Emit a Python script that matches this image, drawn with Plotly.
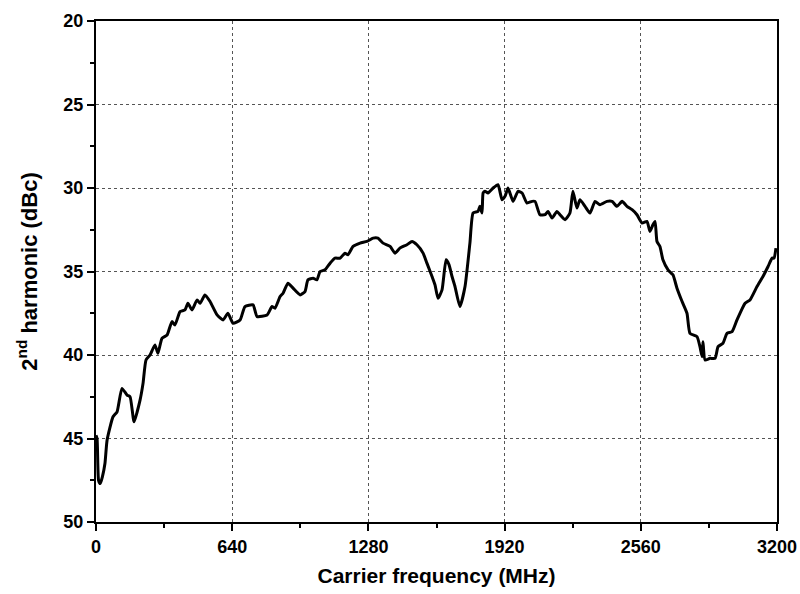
import plotly.graph_objects as go

freq_mhz = [0, 5, 12, 20, 30, 42, 52, 80, 99, 122, 146, 160, 179, 207, 221, 235, 254, 277, 291, 310,
            334, 357, 371, 395, 418, 432, 451, 475, 489, 512, 536, 569, 597, 620, 644, 677, 700, 738,
            757, 804, 827, 841, 865, 879, 902, 926, 959, 982, 996, 1020, 1038, 1053, 1076, 1100, 1123,
            1147, 1170, 1184, 1208, 1241, 1273, 1302, 1325, 1349, 1382, 1405, 1428, 1461, 1485, 1508,
            1537, 1555, 1579, 1593, 1607, 1626, 1645, 1659, 1673, 1687, 1710, 1734, 1757, 1772, 1795,
            1804, 1814, 1819, 1828, 1842, 1866, 1889, 1908, 1922, 1936, 1960, 1983, 2002, 2025, 2049,
            2063, 2086, 2110, 2124, 2143, 2166, 2180, 2204, 2227, 2241, 2260, 2274, 2298, 2321, 2345,
            2368, 2401, 2425, 2448, 2472, 2495, 2519, 2542, 2566, 2589, 2603, 2617, 2627, 2636, 2650,
            2664, 2688, 2711, 2730, 2754, 2777, 2791, 2824, 2838, 2848, 2852, 2862, 2885, 2909, 2923,
            2946, 2965, 2989, 3012, 3050, 3073, 3106, 3134, 3158, 3177, 3186, 3195]

harmonic_dbc = [44.8, 45.0, 47.5, 47.7, 47.3, 46.5, 45.1, 43.7, 43.4, 42.0, 42.4, 42.5, 44.0, 42.7, 41.7,
                40.3, 40.0, 39.4, 39.9, 39.0, 38.8, 38.0, 38.2, 37.4, 37.3, 36.9, 37.3, 36.7, 36.9, 36.4,
                36.8, 37.6, 37.9, 37.5, 38.1, 37.9, 37.1, 37.0, 37.7, 37.6, 37.1, 37.2, 36.5, 36.3, 35.7,
                36.0, 36.4, 36.2, 35.5, 35.4, 35.5, 35.0, 34.9, 34.5, 34.2, 34.2, 33.9, 34.0, 33.5, 33.3,
                33.2, 33.0, 33.0, 33.3, 33.5, 33.9, 33.6, 33.4, 33.2, 33.4, 33.9, 34.5, 35.3, 35.8, 36.6,
                36.1, 34.3, 34.6, 35.3, 35.9, 37.1, 35.9, 33.3, 31.5, 31.4, 31.1, 31.5, 30.3, 30.2, 30.3,
                30.0, 29.8, 30.7, 30.5, 30.0, 30.8, 30.2, 30.3, 30.9, 30.8, 30.8, 31.6, 31.6, 31.4, 31.8,
                31.4, 31.6, 31.9, 31.5, 30.2, 31.2, 30.7, 31.1, 31.5, 30.8, 31.0, 30.8, 30.8, 31.1, 30.8,
                31.1, 31.3, 31.6, 32.1, 32.0, 32.6, 32.2, 32.0, 33.2, 33.5, 34.3, 34.9, 35.2, 36.0, 36.8,
                37.5, 38.7, 38.9, 39.5, 40.1, 39.2, 40.3, 40.2, 40.2, 39.5, 39.3, 38.7, 38.6, 37.9, 36.9,
                36.7, 35.9, 35.3, 34.7, 34.2, 34.2, 33.6]

x_ticks = [0, 640, 1280, 1920, 2560, 3200]
y_ticks = [20, 25, 30, 35, 40, 45, 50]

fig = go.Figure()
fig.add_trace(go.Scatter(x=freq_mhz, y=harmonic_dbc, mode="lines",
                         line=dict(color="black", width=3, shape="spline", smoothing=0.5),
                         showlegend=False))

font_fam = "Liberation Sans, Arial, sans-serif"
fig.update_layout(
    width=800, height=594,
    margin=dict(l=96, r=23, t=21, b=72),
    plot_bgcolor="white", paper_bgcolor="white",
    font=dict(family=font_fam, color="black"),
)
fig.update_xaxes(
    range=[0, 3200], tickvals=x_ticks, ticktext=[str(v) for v in x_ticks],
    showline=True, linecolor="black", linewidth=2, mirror=True,
    ticks="outside", ticklen=7, tickwidth=2, tickcolor="black",
    minor=dict(ticks="outside", ticklen=4, tickwidth=2, tickcolor="black", dtick=320, tick0=0, showgrid=False),
    showgrid=True, gridcolor="#555555", gridwidth=1, griddash="3px,3px",
    zeroline=False, automargin=False,
    tickfont=dict(size=18, family=font_fam, weight="bold"),
    title=dict(text="Carrier frequency (MHz)", font=dict(size=21, family=font_fam, weight="bold"), standoff=13),
)
fig.update_yaxes(
    range=[50, 20], tickvals=y_ticks,
    showline=True, linecolor="black", linewidth=2, mirror=True,
    ticks="outside", ticklen=7, tickwidth=2, tickcolor="black",
    minor=dict(ticks="outside", ticklen=4, tickwidth=2, tickcolor="black", dtick=2.5, tick0=20, showgrid=False),
    showgrid=True, gridcolor="#555555", gridwidth=1, griddash="3px,3px",
    zeroline=False, automargin=False,
    tickfont=dict(size=18, family=font_fam, weight="bold"),
    title=dict(text="2<sup>nd</sup> harmonic (dBc)", font=dict(size=22, family=font_fam, weight="bold"), standoff=20),
)

fig.write_html("out.html")
